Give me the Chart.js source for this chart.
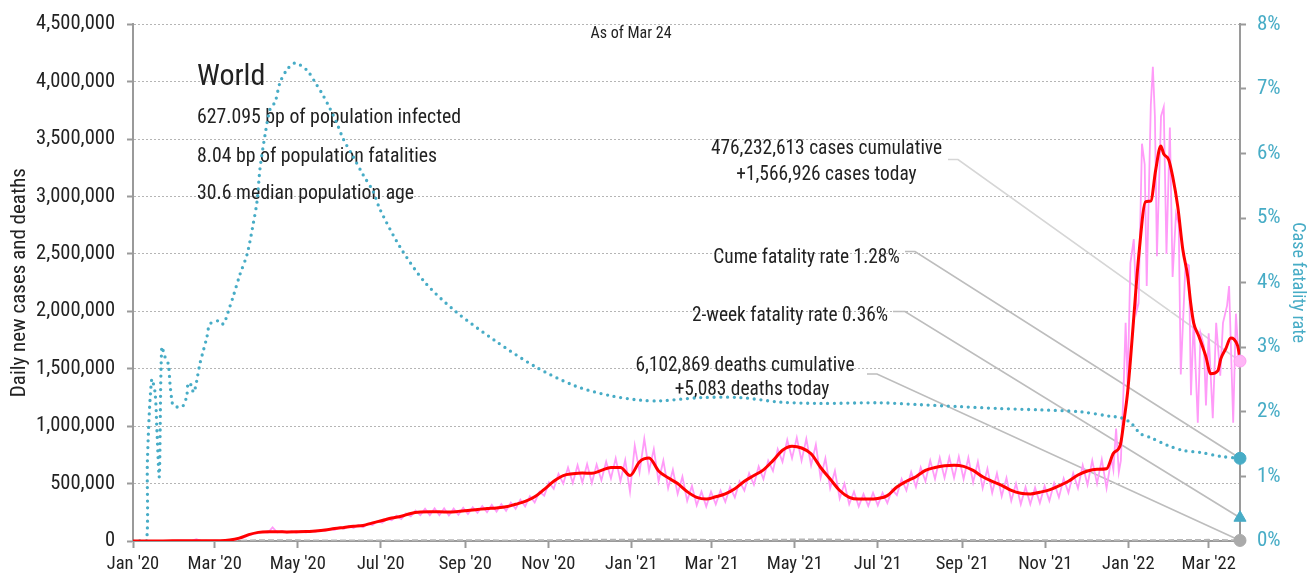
<!DOCTYPE html>
<html><head><meta charset="utf-8">
<script src="https://cdn.jsdelivr.net/npm/chart.js@4/dist/chart.umd.min.js"></script>
<style>html,body{margin:0;padding:0;background:#fff;}#wrap{position:relative;width:1315px;height:582px;}</style>
</head><body><div id="wrap"><canvas id="c" width="1315" height="582"></canvas></div>
<script>
// ---------- DATA (x = days since Jan 1 2020) ----------
const firstDay = 0;               // series start (Jan 1 2020), no cases yet
const lastDay = 813;              // Mar 24 2022
const weekStart = 22;             // first weekly sample (Jan 23 2020)
// 7-day average of daily new cases, thousands, weekly samples from weekStart
const avgWeekly = [0.6,1.5,2.8,3.0,2.5,1.5,2.0,8,25,55, 75,80,80,79,80,82,88,96,108,118,
  128,135,158,178,200,215,240,252,255,255, 252,258,265,275,282,288,298,320,345,385,
  450,520,570,585,592,590,615,640,640,570, 690,722,610,550,500,430,380,365,385,410,
  455,520,570,620,700,790,825,810,760,640, 540,440,380,365,365,370,395,470,520,560,
  615,640,655,660,650,615,560,520,485,440, 415,410,425,445,480,520,575,610,625,630];
const avgLateDays = [720,724,725.4,727.6,730.5,732.7,735,738.6,743.7,747.4,751.1,754.8,757,760.7,763.6,767.3,771,774.6,776.8,779,782.7,787.8,791.5,796.7,798.9,802.5,806.2,808.4,811.3,813];
const avgLateValues = [763,806,850,1031,1300,1600,1950,2478,2955,2960,3232,3440,3371,3319,3172,2912,2539,2305,2071,1898,1785,1612,1456,1482,1586,1673,1768,1759,1699,1586];
// daily new cases, thousands: weekly trough / peak readings
const dailyLow = [0.5,1.2,2.4,2.0,1.8,1.0,1.5,6,20,48, 68,72,74,72,72,74,80,86,96,106,
  114,120,140,160,180,192,215,225,225,225, 222,228,235,245,250,255,262,280,300,335,
  395,455,500,505,510,505,530,545,520,430, 600,610,520,460,410,350,310,300,320,340,
  380,440,490,540,610,690,720,700,660,550, 460,370,320,300,305,310,330,400,440,470,
  520,540,550,550,540,510,460,420,390,350, 320,320,330,350,380,420,460,490,500,460];
const dailyHigh = [0.9,2.1,3.2,15,2.8,2.0,3.0,12,32,62, 82,118,88,86,88,90,96,106,118,130,
  140,150,175,195,220,240,265,280,285,285, 282,290,295,305,315,322,335,360,390,430,
  510,585,640,660,670,665,690,720,705,830, 890,800,700,620,560,480,430,430,440,470,
  520,590,650,700,800,880,900,890,840,720, 610,500,430,410,420,420,450,540,600,640,
  700,725,730,735,725,690,630,590,550,500, 470,465,480,505,545,590,660,700,710,720];
const dailyLateDays = [720,722,724,725.5,727.5,729,730.5,732.5,735,737,738.5,741,743,744.5,747.5,749,750.5,752,755,757,759,761.5,763.5,766,768,769.5,773,775.5,777,779,782,784,786.5,788,790,793,795.5,798.5,800.5,803.5,805,808,810,812];
const dailyLateValues = [620,980,600,700,1330,1900,1350,2420,2630,2000,2070,3460,3280,2220,3800,4130,3700,2480,3700,3780,2500,3600,2300,2850,2760,1450,2420,2400,1270,1930,1030,1810,1700,1180,1810,1070,1900,1440,1900,2050,2220,1030,1980,1600];
// cumulative case fatality rate, %
const rateDays = [0,5,10,10.6,13.7,16.2,17.6,19.3,21.1,23.5,25.9,27.2,28.4,29.6,34.5,37,39.5,40.6,43.1,44.3,45.6,46.8,49.2,51.7,54.2,56.6,63.2,66.4,71.3,73.5,78.6,83.8,88.2,91.1,93.3,97,100.7,104.4,108,113.2,119,127.7,133.8,139.6,144.8,149.9,154.3,161.7,169,176.4,181.5,196.2,214.6,236.6,266,295.4,324.8,350.6,372.6,387.3,416.7,446,475.5,504.9,549,578.4,607.8,637.2,666.6,696,718,725.4,732.7,740,747.4,759.9,771.7,784.2,798.9,813];
const rateValues = [0,0,0,1.25,2.5,2.3,1.7,1.0,3.0,2.85,2.74,2.43,2.2,2.1,2.07,2.1,2.25,2.45,2.4,2.3,2.36,2.48,2.75,2.95,3.15,3.36,3.41,3.36,3.64,3.78,4.13,4.44,4.9,5.26,5.77,6.29,6.69,6.8,7.1,7.3,7.4,7.29,7.1,6.9,6.69,6.46,6.23,5.95,5.67,5.41,5.13,4.55,4.0,3.56,3.1,2.7,2.4,2.25,2.18,2.17,2.22,2.22,2.15,2.13,2.14,2.11,2.08,2.05,2.03,2.0,1.93,1.91,1.83,1.66,1.6,1.48,1.4,1.37,1.31,1.28];
// daily deaths (7-day avg), thousands
const deathDays = [0,22,45,60,75,91,105,121,152,182,213,244,274,305,335,366,385,397,425,456,486,500,530,547,578,609,639,670,700,731,760,790,813];
const deathValues = [0,0.01,0.1,0.3,1.5,6,7,5.5,4.5,4.8,5.8,5.8,5.3,6.5,10.5,11.5,14.2,13,8.8,9.5,12.5,13.5,10.5,8,8.5,10,8,7,7.2,6.5,7.5,10,5.1];
// headline numbers
const casesToday = 1566926;
const cumeRate = 1.28;
const twoWeekRate = 0.36;
const deathsToday = 5083;
const casesCumulative = '476,232,613';
const deathsCumulative = '6,102,869';
// axis ticks
const tickMonths = [[2020,0],[2020,2],[2020,4],[2020,6],[2020,8],[2020,10],[2021,0],[2021,2],[2021,4],[2021,6],[2021,8],[2021,10],[2022,0],[2022,2]];
const tickLabels = ["Jan '20","Mar '20","May '20","Jul '20","Sep '20","Nov '20","Jan '21","Mar '21","May '21","Jul '21","Sep '21","Nov '21","Jan '22","Mar '22"];
const yMax = 4500000, yStep = 500000, rMax = 8, rStep = 1;

// ---------- build series ----------
const avgPts = [{x:firstDay,y:0}].concat(avgWeekly.map((v,i)=>({x:weekStart+7*i, y:v*1000})))
  .concat(avgLateDays.map((d,i)=>({x:d, y:avgLateValues[i]*1000})));
const dailyPts = [{x:firstDay,y:0}];
dailyLow.forEach((v,i)=>{ dailyPts.push({x:weekStart+7*i, y:v*1000}); dailyPts.push({x:weekStart+7*i+3.5, y:dailyHigh[i]*1000}); });
dailyLateDays.forEach((d,i)=>dailyPts.push({x:d, y:dailyLateValues[i]*1000}));
dailyPts.push({x:lastDay, y:casesToday});
const ratePts = rateDays.map((d,i)=>({x:d, y:rateValues[i]}));
const deathPts = deathDays.map((d,i)=>({x:d, y:deathValues[i]*1000}));
const day0 = Date.UTC(2020,0,1);
const tickDays = tickMonths.map(([y,m])=>Math.round((Date.UTC(y,m,1)-day0)/86400000));

// ---------- font pick ----------
function hasFont(name){const c=document.createElement('canvas').getContext('2d');const t='World 627,095 bp abcdefghij';c.font='40px monospace';const a=c.measureText(t).width;c.font='40px "'+name+'", monospace';return c.measureText(t).width!==a;}
const FONT = ['Liberation Sans Narrow','Roboto Condensed','DejaVu Sans Condensed','Liberation Sans'].find(hasFont) || 'sans-serif';
const FF = '"'+FONT+'", sans-serif';
const TEAL = '#47acc6', TEXT = '#222', AXIS = '#9a9a9a';

const annot = {
  id:'annot',
  beforeDatasetsDraw(chart){
    const c = chart.ctx, sx = chart.scales.x, sy = chart.scales.y, sr = chart.scales.y1;
    const ex = sx.getPixelForValue(lastDay);
    c.save();
    const leaders = [
      {a:[948,159.5], b:[958,159.5], e:sy.getPixelForValue(casesToday), col:'#d6d6d6'},
      {a:[905,251.5], b:[915,251.5], e:sr.getPixelForValue(cumeRate), col:'#bdbdbd'},
      {a:[893,311.5], b:[905,311.5], e:sr.getPixelForValue(twoWeekRate), col:'#bdbdbd'},
      {a:[867,374], b:[877,374], e:sy.getPixelForValue(deathsToday), col:'#bdbdbd'}
    ];
    c.lineWidth = 1.7;
    leaders.forEach(l=>{c.strokeStyle=l.col;c.beginPath();c.moveTo(l.a[0],l.a[1]);c.lineTo(l.b[0],l.b[1]);c.lineTo(ex,l.e);c.stroke();});
    c.fillStyle = TEXT; c.textBaseline='alphabetic';
    c.textAlign='left';
    c.font = '30px '+FF; c.fillText('World',197,85);
    c.font = '19.8px '+FF;
    c.fillText('627.095 bp of population infected',197,123);
    c.fillText('8.04 bp of population fatalities',197,161.5);
    c.fillText('30.6 median population age',197,198.5);
    c.textAlign='center';
    c.font = '19.4px '+FF;
    c.fillText(casesCumulative+' cases cumulative',826.5,153.5);
    c.fillText('+'+casesToday.toLocaleString('en-US')+' cases today',826.5,180);
    c.fillText('Cume fatality rate '+cumeRate.toFixed(2)+'%',806.5,262.5);
    c.fillText('2-week fatality rate '+twoWeekRate.toFixed(2)+'%',790,320.5);
    c.fillText(deathsCumulative+' deaths cumulative',745,370.5);
    c.fillText('+'+deathsToday.toLocaleString('en-US')+' deaths today',752,395);
    c.font = '16px '+FF;
    c.fillText('As of Mar 24',631,38);
    c.restore();
  }
};

new Chart(document.getElementById('c'), {
  type:'line',
  data:{datasets:[
    {data:[{x:lastDay,y:casesToday}], yAxisID:'y', showLine:false, pointRadius:6, pointBackgroundColor:'#ffb6f6', pointBorderColor:'#ff9cf2', pointBorderWidth:1, clip:false},
    {data:[{x:lastDay,y:cumeRate}], yAxisID:'y1', showLine:false, pointRadius:6, pointBackgroundColor:TEAL, pointBorderColor:TEAL, clip:false},
    {data:[{x:lastDay,y:twoWeekRate}], yAxisID:'y1', showLine:false, pointStyle:'triangle', pointRadius:7, pointBackgroundColor:TEAL, pointBorderColor:TEAL, clip:false},
    {data:[{x:lastDay,y:deathsToday}], yAxisID:'y', showLine:false, pointRadius:6, pointBackgroundColor:'#aaaaaa', pointBorderColor:'#aaaaaa', clip:false},
    {data:avgPts, yAxisID:'y', borderColor:'#ff0000', borderWidth:3, pointRadius:0, cubicInterpolationMode:'monotone'},
    {data:ratePts, yAxisID:'y1', borderColor:TEAL, borderWidth:3.3, borderDash:[0,6.7], borderCapStyle:'round', pointRadius:0, tension:0.3},
    {data:dailyPts, yAxisID:'y', borderColor:'rgb(255,155,248)', borderWidth:1.8, pointRadius:0, tension:0},
    {data:deathPts, yAxisID:'y', borderColor:'#b5b5b5', borderWidth:2, borderDash:[6,3], pointRadius:0}
  ]},
  options:{
    responsive:false, animation:false, devicePixelRatio:1,
    layout:{padding:{top:22,left:0,right:0,bottom:0}},
    plugins:{legend:{display:false}, tooltip:{enabled:false}},
    scales:{
      x:{type:'linear', min:0, max:lastDay,
        afterBuildTicks:s=>{s.ticks = tickDays.map(v=>({value:v}));},
        afterFit:s=>{s.height = 41;},
        ticks:{autoSkip:false, maxRotation:0, padding:5, color:TEXT, font:{family:FF,size:18.5}, callback:(v,i)=>tickLabels[i]},
        grid:{drawOnChartArea:false, tickLength:7, tickColor:AXIS, tickWidth:2},
        border:{color:AXIS, width:2}},
      y:{position:'left', min:0, max:yMax,
        afterFit:s=>{s.width = 133;},
        ticks:{stepSize:yStep, padding:12, color:TEXT, font:{family:FF,size:20.5}, callback:v=>v.toLocaleString('en-US')},
        grid:{color:'#b5b5b5', lineWidth:1, tickLength:6, tickColor:AXIS, tickWidth:2, tickBorderDash:[]},
        border:{color:AXIS, width:2, dash:[2,2]},
        title:{display:true, text:'Daily new cases and deaths', color:TEXT, font:{family:FF,size:21}, padding:{top:7,bottom:0}}},
      y1:{position:'right', min:0, max:rMax,
        afterFit:s=>{s.width = 75;},
        ticks:{stepSize:rStep, padding:11, color:TEAL, font:{family:FF,size:21}, callback:v=>v+'%'},
        grid:{drawOnChartArea:false, tickLength:6, tickColor:AXIS, tickWidth:2},
        border:{color:AXIS, width:2},
        title:{display:true, text:'Case fatality rate', color:TEAL, font:{family:FF,size:18}, padding:{top:7,bottom:0}}}
    }
  },
  plugins:[annot]
});
</script></body></html>
